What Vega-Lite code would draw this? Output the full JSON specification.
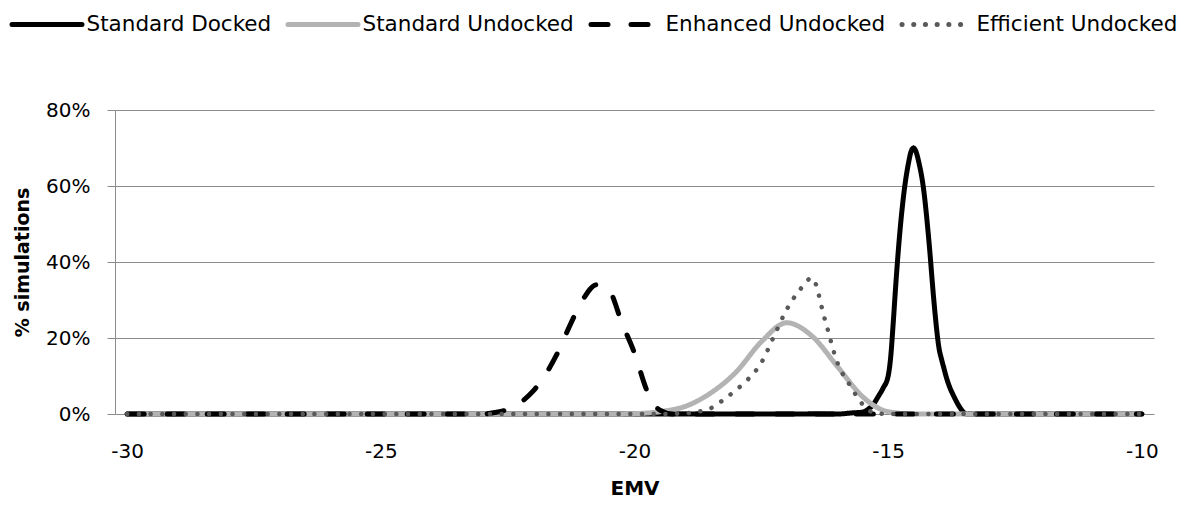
{
  "$schema": "https://vega.github.io/schema/vega-lite/v6.json",
  "autosize": "none",
  "width": 1039,
  "height": 304,
  "padding": {"left": 115, "top": 110, "right": 41, "bottom": 91},
  "background": "white",
  "config": {"view": {"stroke": null}},
  "data": {"values": [
    {"series": "Standard Docked", "x": -30, "y": 0},
    {"series": "Standard Docked", "x": -25, "y": 0},
    {"series": "Standard Docked", "x": -20, "y": 0},
    {"series": "Standard Docked", "x": -16, "y": 0},
    {"series": "Standard Docked", "x": -15.7, "y": 0.003},
    {"series": "Standard Docked", "x": -15.5, "y": 0.005},
    {"series": "Standard Docked", "x": -15.4, "y": 0.012},
    {"series": "Standard Docked", "x": -15.3, "y": 0.024},
    {"series": "Standard Docked", "x": -15.2, "y": 0.045},
    {"series": "Standard Docked", "x": -15.1, "y": 0.068},
    {"series": "Standard Docked", "x": -15.0, "y": 0.10},
    {"series": "Standard Docked", "x": -14.95, "y": 0.15},
    {"series": "Standard Docked", "x": -14.9, "y": 0.24},
    {"series": "Standard Docked", "x": -14.85, "y": 0.34},
    {"series": "Standard Docked", "x": -14.8, "y": 0.43},
    {"series": "Standard Docked", "x": -14.7, "y": 0.57},
    {"series": "Standard Docked", "x": -14.6, "y": 0.66},
    {"series": "Standard Docked", "x": -14.55, "y": 0.69},
    {"series": "Standard Docked", "x": -14.5, "y": 0.70},
    {"series": "Standard Docked", "x": -14.45, "y": 0.69},
    {"series": "Standard Docked", "x": -14.4, "y": 0.665},
    {"series": "Standard Docked", "x": -14.3, "y": 0.59},
    {"series": "Standard Docked", "x": -14.2, "y": 0.46},
    {"series": "Standard Docked", "x": -14.1, "y": 0.30},
    {"series": "Standard Docked", "x": -14.05, "y": 0.23},
    {"series": "Standard Docked", "x": -14.0, "y": 0.175},
    {"series": "Standard Docked", "x": -13.95, "y": 0.145},
    {"series": "Standard Docked", "x": -13.9, "y": 0.12},
    {"series": "Standard Docked", "x": -13.85, "y": 0.095},
    {"series": "Standard Docked", "x": -13.8, "y": 0.075},
    {"series": "Standard Docked", "x": -13.7, "y": 0.045},
    {"series": "Standard Docked", "x": -13.6, "y": 0.02},
    {"series": "Standard Docked", "x": -13.5, "y": 0.003},
    {"series": "Standard Docked", "x": -13.45, "y": 0},
    {"series": "Standard Docked", "x": -12, "y": 0},
    {"series": "Standard Docked", "x": -10, "y": 0},

    {"series": "Standard Undocked", "x": -30, "y": 0},
    {"series": "Standard Undocked", "x": -25, "y": 0},
    {"series": "Standard Undocked", "x": -20.5, "y": 0},
    {"series": "Standard Undocked", "x": -20, "y": 0.001},
    {"series": "Standard Undocked", "x": -19.5, "y": 0.006},
    {"series": "Standard Undocked", "x": -19, "y": 0.02},
    {"series": "Standard Undocked", "x": -18.5, "y": 0.055},
    {"series": "Standard Undocked", "x": -18, "y": 0.11},
    {"series": "Standard Undocked", "x": -17.5, "y": 0.19},
    {"series": "Standard Undocked", "x": -17, "y": 0.24},
    {"series": "Standard Undocked", "x": -16.5, "y": 0.205},
    {"series": "Standard Undocked", "x": -16, "y": 0.125},
    {"series": "Standard Undocked", "x": -15.5, "y": 0.045},
    {"series": "Standard Undocked", "x": -15, "y": 0.006},
    {"series": "Standard Undocked", "x": -14.5, "y": 0},
    {"series": "Standard Undocked", "x": -12, "y": 0},
    {"series": "Standard Undocked", "x": -10, "y": 0},

    {"series": "Enhanced Undocked", "x": -30, "y": 0},
    {"series": "Enhanced Undocked", "x": -25, "y": 0},
    {"series": "Enhanced Undocked", "x": -23, "y": 0},
    {"series": "Enhanced Undocked", "x": -22.75, "y": 0.004},
    {"series": "Enhanced Undocked", "x": -22.5, "y": 0.012},
    {"series": "Enhanced Undocked", "x": -22.25, "y": 0.03},
    {"series": "Enhanced Undocked", "x": -22, "y": 0.06},
    {"series": "Enhanced Undocked", "x": -21.75, "y": 0.105},
    {"series": "Enhanced Undocked", "x": -21.5, "y": 0.165},
    {"series": "Enhanced Undocked", "x": -21.25, "y": 0.24},
    {"series": "Enhanced Undocked", "x": -21, "y": 0.305},
    {"series": "Enhanced Undocked", "x": -20.75, "y": 0.34},
    {"series": "Enhanced Undocked", "x": -20.5, "y": 0.325},
    {"series": "Enhanced Undocked", "x": -20.25, "y": 0.24},
    {"series": "Enhanced Undocked", "x": -20, "y": 0.16},
    {"series": "Enhanced Undocked", "x": -19.75, "y": 0.06},
    {"series": "Enhanced Undocked", "x": -19.5, "y": 0.01},
    {"series": "Enhanced Undocked", "x": -19.25, "y": 0},
    {"series": "Enhanced Undocked", "x": -15, "y": 0},
    {"series": "Enhanced Undocked", "x": -10, "y": 0},

    {"series": "Efficient Undocked", "x": -30, "y": 0},
    {"series": "Efficient Undocked", "x": -25, "y": 0},
    {"series": "Efficient Undocked", "x": -19.5, "y": 0},
    {"series": "Efficient Undocked", "x": -19, "y": 0.002},
    {"series": "Efficient Undocked", "x": -18.75, "y": 0.006},
    {"series": "Efficient Undocked", "x": -18.5, "y": 0.015},
    {"series": "Efficient Undocked", "x": -18.25, "y": 0.037},
    {"series": "Efficient Undocked", "x": -18, "y": 0.063},
    {"series": "Efficient Undocked", "x": -17.75, "y": 0.093},
    {"series": "Efficient Undocked", "x": -17.5, "y": 0.135},
    {"series": "Efficient Undocked", "x": -17.25, "y": 0.205},
    {"series": "Efficient Undocked", "x": -17, "y": 0.275},
    {"series": "Efficient Undocked", "x": -16.75, "y": 0.325},
    {"series": "Efficient Undocked", "x": -16.5, "y": 0.358},
    {"series": "Efficient Undocked", "x": -16.25, "y": 0.25},
    {"series": "Efficient Undocked", "x": -16, "y": 0.135},
    {"series": "Efficient Undocked", "x": -15.75, "y": 0.075},
    {"series": "Efficient Undocked", "x": -15.5, "y": 0.025},
    {"series": "Efficient Undocked", "x": -15.25, "y": 0.002},
    {"series": "Efficient Undocked", "x": -15, "y": 0},
    {"series": "Efficient Undocked", "x": -10, "y": 0}
  ]},
  "encoding": {
    "x": {
      "field": "x", "type": "quantitative",
      "scale": {"domain": [-30.24, -9.76], "nice": false, "zero": false},
      "axis": {
        "values": [-30, -25, -20, -15, -10],
        "labelExpr": "replace(datum.label, '\u2212', '-')",
        "ticks": false, "domain": false, "grid": false,
        "labelFont": "DejaVu Sans", "labelFontSize": 20, "labelColor": "#000",
        "labelPadding": 27,
        "title": "EMV", "titleFont": "DejaVu Sans", "titleFontSize": 20,
        "titleFontWeight": "bold", "titleColor": "#000",
        "titleY": 74, "titleBaseline": "middle"
      }
    },
    "y": {
      "field": "y", "type": "quantitative",
      "scale": {"domain": [0, 0.8], "nice": false},
      "axis": {
        "values": [0, 0.2, 0.4, 0.6, 0.8], "format": ".0%",
        "grid": true, "gridColor": "#8c8c8c", "gridWidth": 1,
        "domain": true, "domainColor": "#8c8c8c", "domainWidth": 1,
        "ticks": true, "tickColor": "#8c8c8c", "tickSize": 8, "tickWidth": 1,
        "labelFont": "DejaVu Sans", "labelFontSize": 20, "labelColor": "#000",
        "labelPadding": 17,
        "title": "% simulations", "titleFont": "DejaVu Sans", "titleFontSize": 19,
        "titleFontWeight": "bold", "titleColor": "#000",
        "titleX": -93, "titleY": 152, "titleAngle": -90,
        "titleAlign": "center", "titleBaseline": "middle"
      }
    },
    "color": {
      "field": "series", "type": "nominal",
      "scale": {
        "domain": ["Standard Docked", "Standard Undocked", "Enhanced Undocked", "Efficient Undocked"],
        "range": ["#000000", "#b3b3b3", "#000000", "#595959"]
      },
      "legend": {
        "orient": "none", "legendX": -105.5, "legendY": -123,
        "direction": "horizontal", "title": null,
        "symbolType": "stroke", "symbolSize": 4900, "symbolStrokeWidth": 5,
        "labelFont": "DejaVu Sans", "labelFontSize": 21.5, "labelColor": "#000",
        "labelOffset": 2, "columnPadding": 6, "padding": 0,
        "labelLimit": 400,
        "encode": {"symbols": {"update": {"strokeCap": {"value": "round"}}}}
      }
    },
    "strokeDash": {
      "field": "series", "type": "nominal",
      "scale": {
        "domain": ["Standard Docked", "Standard Undocked", "Enhanced Undocked", "Efficient Undocked"],
        "range": [[1, 0], [1, 0], [17, 23], [0.1, 11.6]]
      },
      "legend": null
    }
  },
  "layer": [
    {"transform": [{"filter": "datum.series === 'Standard Docked'"}],
     "mark": {"type": "line", "interpolate": "monotone", "strokeWidth": 5, "strokeCap": "round", "strokeJoin": "round"}},
    {"transform": [{"filter": "datum.series === 'Standard Undocked'"}],
     "mark": {"type": "line", "interpolate": "monotone", "strokeWidth": 5, "strokeCap": "round", "strokeJoin": "round"}},
    {"transform": [{"filter": "datum.series === 'Enhanced Undocked'"}],
     "mark": {"type": "line", "interpolate": "monotone", "strokeWidth": 5, "strokeCap": "round", "strokeJoin": "round"}},
    {"transform": [{"filter": "datum.series === 'Efficient Undocked'"}],
     "mark": {"type": "line", "interpolate": "monotone", "strokeWidth": 4.5, "strokeCap": "round", "strokeJoin": "round"}}
  ]
}
